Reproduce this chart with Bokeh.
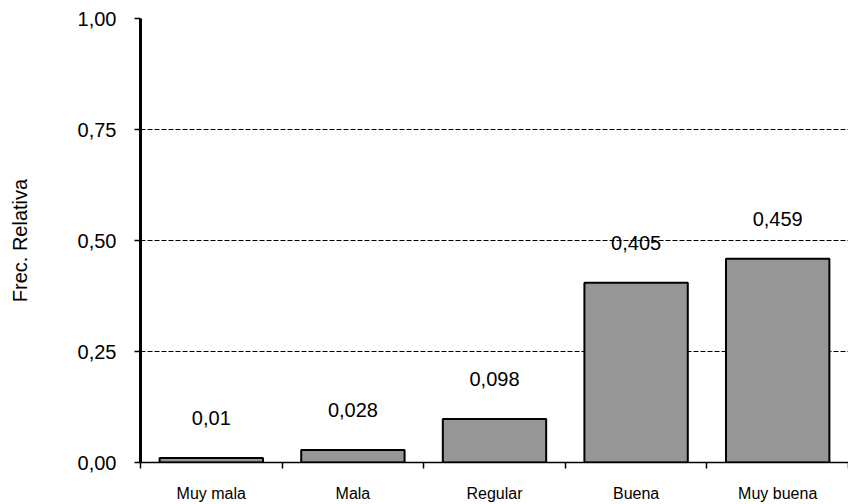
from bokeh.plotting import figure
from bokeh.models import Range1d, FixedTicker, ColumnDataSource
from bokeh.embed import file_html
from bokeh.resources import INLINE
from bokeh.core.properties import value

categories = ["Muy mala", "Mala", "Regular", "Buena", "Muy buena"]
freq_rel = [0.01, 0.028, 0.098, 0.405, 0.459]
y_ticks = [0.0, 0.25, 0.5, 0.75, 1.0]
y_tick_labels = ["0,00", "0,25", "0,50", "0,75", "1,00"]

FONT = "Liberation Sans"

x_pos = [i + 0.5 for i in range(len(categories))]
x_bounds = [float(i) for i in range(len(categories) + 1)]
bar_labels = [str(v).replace(".", ",") for v in freq_rel]
src = ColumnDataSource(dict(x=x_pos, top=freq_rel, label=bar_labels))

p = figure(width=848, height=504, output_backend="svg", toolbar_location=None,
           x_range=Range1d(0, len(categories)), y_range=Range1d(0, 1),
           min_border_left=140, min_border_right=0, min_border_top=18,
           min_border_bottom=41)
p.outline_line_color = None
p.background_fill_color = "white"

p.vbar(x="x", top="top", bottom=0, width=0.73, source=src,
       fill_color="#969696", line_color="black", line_width=2)
p.text(x="x", y="top", text="label", source=src, text_align="center",
       text_baseline="alphabetic", y_offset=-40,
       text_font=value(FONT), text_font_size="20px", text_color="black")

p.xgrid.visible = False
p.ygrid.ticker = FixedTicker(ticks=[0.25, 0.5, 0.75])
p.ygrid.grid_line_color = "black"
p.ygrid.grid_line_dash = "5 2"
p.ygrid.grid_line_width = 1

ya = p.yaxis[0]
ya.ticker = FixedTicker(ticks=y_ticks)
ya.major_label_overrides = dict(zip(y_ticks, y_tick_labels))
ya.axis_line_width = 3
ya.axis_line_color = "black"
ya.major_tick_out = 6
ya.major_tick_in = 0
ya.major_tick_line_width = 1.5
ya.minor_tick_line_color = None
ya.major_label_standoff = 18
ya.major_label_text_font = FONT
ya.major_label_text_font_size = "20px"
ya.major_label_text_color = "black"
ya.axis_label = "Frec. Relativa"
ya.axis_label_text_font = FONT
ya.axis_label_text_font_size = "20px"
ya.axis_label_text_font_style = "normal"
ya.axis_label_text_color = "black"
ya.axis_label_standoff = 44

xa = p.xaxis[0]
xa.ticker = FixedTicker(ticks=x_pos, minor_ticks=x_bounds)
xa.major_label_overrides = dict(zip(x_pos, categories))
xa.axis_line_width = 1.5
xa.axis_line_color = "black"
xa.major_tick_out = 0
xa.major_tick_in = 0
xa.major_tick_line_color = None
xa.minor_tick_out = 6
xa.minor_tick_in = 0
xa.minor_tick_line_width = 1.5
xa.minor_tick_line_color = "black"
xa.major_label_standoff = 16
xa.major_label_text_font = FONT
xa.major_label_text_font_size = "16px"
xa.major_label_text_color = "black"

open("out.html", "w").write(file_html(p, INLINE))
